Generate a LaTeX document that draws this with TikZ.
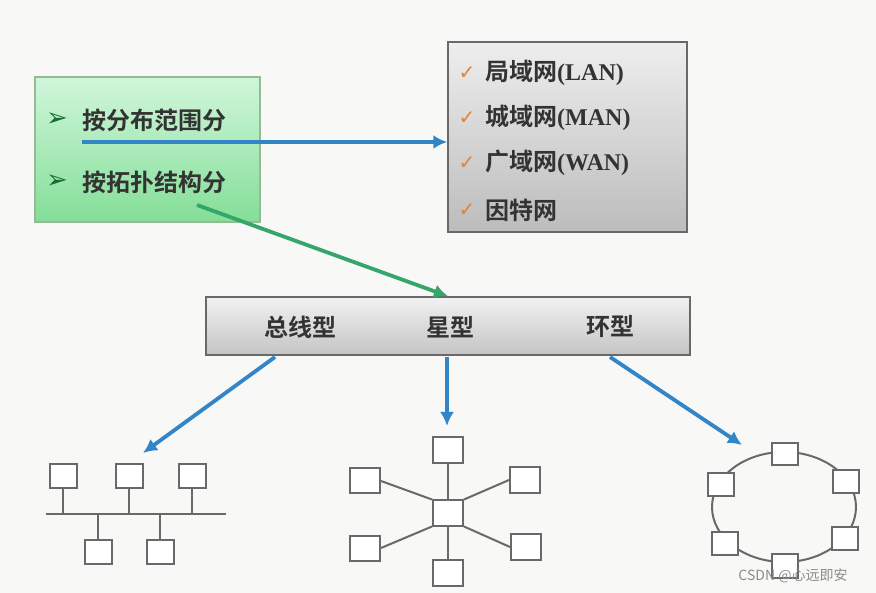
\documentclass[tikz,border=0pt]{standalone}
\usepackage{fontspec}
\setmainfont{Liberation Serif}
\newfontfamily\cjk{Noto Sans CJK SC}[BoldFont={Noto Sans CJK SC Bold}]
\newfontfamily\sym{DejaVu Sans}
\usetikzlibrary{arrows.meta}

\definecolor{pagebg}{RGB}{248,248,246}
\definecolor{linkblue}{RGB}{50,134,200}
\definecolor{linkgreen}{RGB}{52,166,108}
\definecolor{frame}{RGB}{105,105,105}
\definecolor{checkorange}{RGB}{230,130,50}
\definecolor{bulletgreen}{RGB}{20,110,50}

\tikzset{
  pcbox/.style={draw=frame, line width=2pt, fill=white,
    minimum width=27pt, minimum height=24pt, inner sep=0pt},
  wire/.style={draw=frame, line width=2pt},
  link/.style={line width=3.8pt, -{Latex[length=14pt,width=14pt]}},
  bigtext/.style={font=\fontsize{24}{28}\selectfont\bfseries, text=black!80, anchor=west, inner sep=0pt}
}

\begin{document}
\begin{tikzpicture}[x=1pt,y=-1pt]
  % page
  \fill[pagebg] (0,0) rectangle (876,593);
  \useasboundingbox (0,0) rectangle (876,593);

  % left box: how to classify
  \node[draw={rgb,255:red,150;green,185;blue,150}, line width=1.5pt,
        top color={rgb,255:red,208;green,246;blue,218},
        bottom color={rgb,255:red,132;green,222;blue,152},
        minimum width=225pt, minimum height=145pt] (ways) at (147.5,149.5) {};
  \node[text=bulletgreen, font=\sym\fontsize{26}{28}\selectfont] (b1) at (57,120) {➢};
  \node[bigtext] (range) at (82,120) {\cjk 按分布范围分};
  \node[text=bulletgreen, font=\sym\fontsize{26}{28}\selectfont] (b2) at (57,182) {➢};
  \node[bigtext] (topo) at (82,182) {\cjk 按拓扑结构分};

  % right box: kinds of network
  \node[draw=frame, line width=1.5pt,
        top color={rgb,255:red,238;green,238;blue,238},
        bottom color={rgb,255:red,188;green,188;blue,188},
        minimum width=239pt, minimum height=190pt] (kinds) at (567.5,137) {};
  \foreach \y/\t [count=\i] in {73/{{\cjk 局域网}(LAN)}, 118/{{\cjk 城域网}(MAN)},
                                163/{{\cjk 广域网}(WAN)}, 210/{{\cjk 因特网}}} {
    \node[text=checkorange, font=\sym\fontsize{20}{22}\selectfont] (c\i) at (467,\y) {✓};
    \node[bigtext] (k\i) at (485,\y) {\t};
  }

  % bar: topologies
  \node[draw=frame, line width=1.5pt,
        top color={rgb,255:red,242;green,242;blue,242},
        bottom color={rgb,255:red,196;green,196;blue,196},
        minimum width=484pt, minimum height=58pt] (bar) at (448,326) {};
  \node[bigtext, anchor=center] (bus) at (300,327) {\cjk 总线型};
  \node[bigtext, anchor=center] (star) at (450,327) {\cjk 星型};
  \node[bigtext, anchor=center] (ring) at (610,327) {\cjk 环型};

  % arrows
  \coordinate (rangetail) at (82,142);
  \coordinate (topotail) at (197,205);
  \draw[link, linkblue] (rangetail) -- (rangetail -| kinds.west);
  \draw[link, linkgreen] (topotail) -- (bar.north);

  \coordinate (bustail) at (275,357);
  \coordinate (bushead) at (143,453);
  \coordinate (startail) at (447,357);
  \coordinate (starhead) at (447,426);
  \coordinate (ringtail) at (610,357);
  \coordinate (ringhead) at (742,445);
  \draw[link, linkblue] (bustail) -- (bushead);
  \draw[link, linkblue] (startail) -- (starhead);
  \draw[link, linkblue] (ringtail) -- (ringhead);

  % bus topology
  \coordinate (busl) at (46,514);
  \coordinate (busr) at (226,514);
  \draw[wire] (busl) -- (busr);
  \foreach \x [count=\i] in {63,129,192} {
    \node[pcbox] (u\i) at (\x,476) {};
    \draw[wire] (u\i.south) -- (u\i.south |- busl);
  }
  \foreach \x [count=\i] in {98,160} {
    \node[pcbox] (d\i) at (\x,552) {};
    \draw[wire] (d\i.north) -- (d\i.north |- busl);
  }

  % star topology
  \node[pcbox, minimum width=30pt, minimum height=25pt] (hub) at (448,513) {};
  \node[pcbox, minimum width=30pt, minimum height=26pt] (st) at (448,450) {};
  \node[pcbox, minimum width=30pt, minimum height=25pt] (sul) at (365,481) {};
  \node[pcbox, minimum width=30pt, minimum height=26pt] (sur) at (525,480) {};
  \node[pcbox, minimum width=30pt, minimum height=25pt] (sdl) at (365,548) {};
  \node[pcbox, minimum width=30pt, minimum height=26pt] (sdr) at (526,547) {};
  \node[pcbox, minimum width=30pt, minimum height=26pt] (sb) at (448,573) {};
  \draw[wire] (hub.north) -- (st.south);
  \draw[wire] (hub.south) -- (sb.north);
  \draw[wire] (hub.north west) -- (sul.east);
  \draw[wire] (hub.north east) -- (sur.west);
  \draw[wire] (hub.south west) -- (sdl.east);
  \draw[wire] (hub.south east) -- (sdr.west);

  % ring topology
  \draw[wire] (784,507) ellipse (72 and 55);
  \node[pcbox, minimum width=26pt, minimum height=22pt] (r1) at (785,454) {};
  \node[pcbox, minimum width=26pt, minimum height=23pt] (r2) at (846,482) {};
  \node[pcbox, minimum width=26pt, minimum height=23pt] (r3) at (845,538) {};
  \node[pcbox, minimum width=26pt, minimum height=24pt] (r4) at (785,566) {};
  \node[pcbox, minimum width=26pt, minimum height=23pt] (r5) at (725,543) {};
  \node[pcbox, minimum width=26pt, minimum height=23pt] (r6) at (721,485) {};

  % watermark
  \node[text=black!45, font=\cjk\fontsize{14}{16}\selectfont] (mark) at (793,576) {CSDN @心远即安};
\end{tikzpicture}
\end{document}
